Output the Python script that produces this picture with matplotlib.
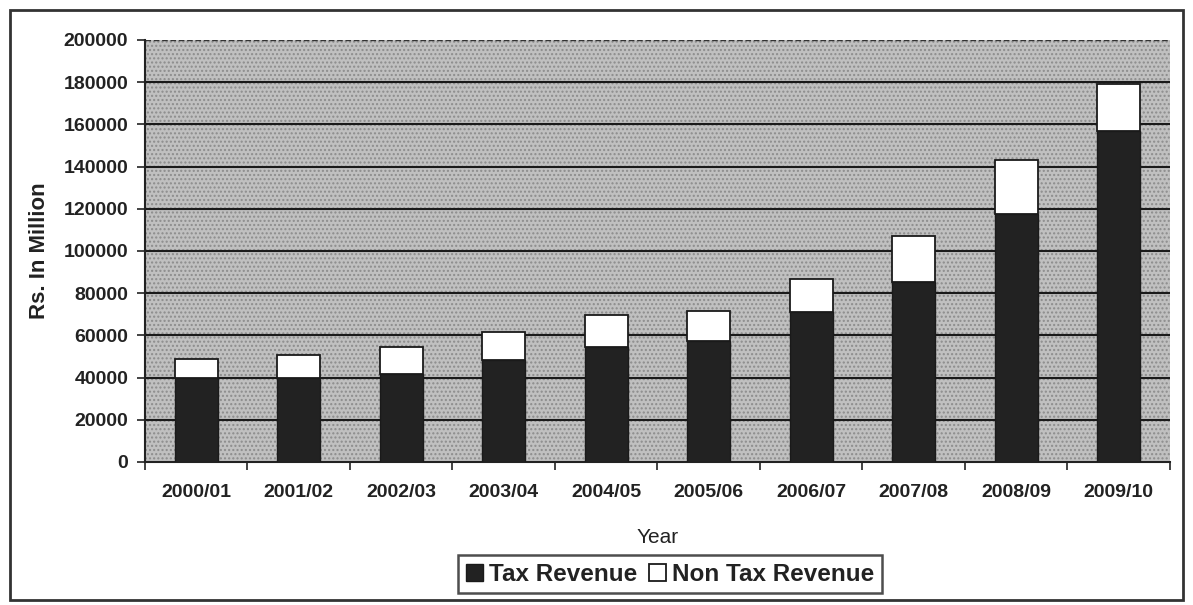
import matplotlib
matplotlib.use("Agg")
import matplotlib.pyplot as plt
from matplotlib.patches import Rectangle
import numpy as np

years = ["2000/01", "2001/02", "2002/03", "2003/04", "2004/05",
         "2005/06", "2006/07", "2007/08", "2008/09", "2009/10"]
tax_revenue = [39700, 39700, 41600, 48300, 54500, 57300, 71200, 85400, 117700, 156900]
total_revenue = [48700, 50600, 54400, 61800, 69600, 71600, 86600, 107300, 143300, 179300]
non_tax_revenue = [t - x for t, x in zip(total_revenue, tax_revenue)]
yticks = list(range(0, 200001, 20000))

plt.rcParams['font.family'] = ['Liberation Sans', 'DejaVu Sans']

fig = plt.figure(figsize=(11.93, 6.05), dpi=100)
fig.patch.set_facecolor('white')
# outer frame
fig.add_artist(Rectangle((0.008, 0.008), 0.984, 0.975, transform=fig.transFigure,
                         fill=False, edgecolor='#333333', linewidth=2))

ax = fig.add_axes([0.1215, 0.2364, 0.8592, 0.6975])
ax.set_facecolor('#c0c0c0')
ax.add_patch(Rectangle((0, 0), 1, 1, transform=ax.transAxes, facecolor='none',
                       edgecolor='#8c8c8c', hatch='....', linewidth=0, zorder=0))

x = np.arange(len(years))
w = 0.42
ax.bar(x, tax_revenue, w, color='#222222', edgecolor='#1a1a1a', linewidth=1.0,
       label='Tax Revenue', zorder=3)
ax.bar(x, non_tax_revenue, w, bottom=tax_revenue, color='white', edgecolor='#1a1a1a',
       linewidth=1.3, label='Non Tax Revenue', zorder=3)

ax.set_xlim(-0.5, len(years) - 0.5)
ax.set_ylim(0, 200000)
ax.set_yticks(yticks)
ax.set_yticklabels([str(v) for v in yticks], fontsize=14, fontweight='bold', color='#222222')
for v in yticks[1:-1]:
    ax.axhline(v, color='#1a1a1a', linewidth=1.5, zorder=1)
ax.axhline(200000, color='#333333', linewidth=1.0, linestyle=(0, (4, 2)), zorder=1)

ax.set_xticks(x)
ax.set_xticklabels(years, fontsize=14, fontweight='bold', color='#222222')
ax.set_xticks(np.arange(-0.5, len(years)), minor=True)
ax.tick_params(axis='x', which='major', length=0, pad=16)
ax.tick_params(axis='x', which='minor', length=6, width=1.2, color='#222222')
ax.tick_params(axis='y', length=6, width=1.2, color='#222222', pad=6)

for s in ['top', 'right']:
    ax.spines[s].set_visible(False)
ax.spines['left'].set_color('#222222')
ax.spines['left'].set_linewidth(1.5)
ax.spines['bottom'].set_color('#222222')
ax.spines['bottom'].set_linewidth(1.5)

ax.set_xlabel('Year', fontsize=15, color='#222222', labelpad=19)
ax.set_ylabel('Rs. In Million', fontsize=16, fontweight='bold', color='#222222', labelpad=10)

leg = fig.legend(loc='center', bbox_to_anchor=(0.5616, 0.051), ncol=2, frameon=True,
                 fancybox=False, edgecolor='#222222',
                 prop={'weight': 'bold', 'size': 17.5},
                 handlelength=0.7, handleheight=0.7, handletextpad=0.25,
                 columnspacing=0.5, borderpad=0.3, borderaxespad=0)
leg.get_frame().set_linewidth(1.8)
for t in leg.get_texts():
    t.set_color('#222222')

fig.savefig('out.png', dpi=100, facecolor='white')
